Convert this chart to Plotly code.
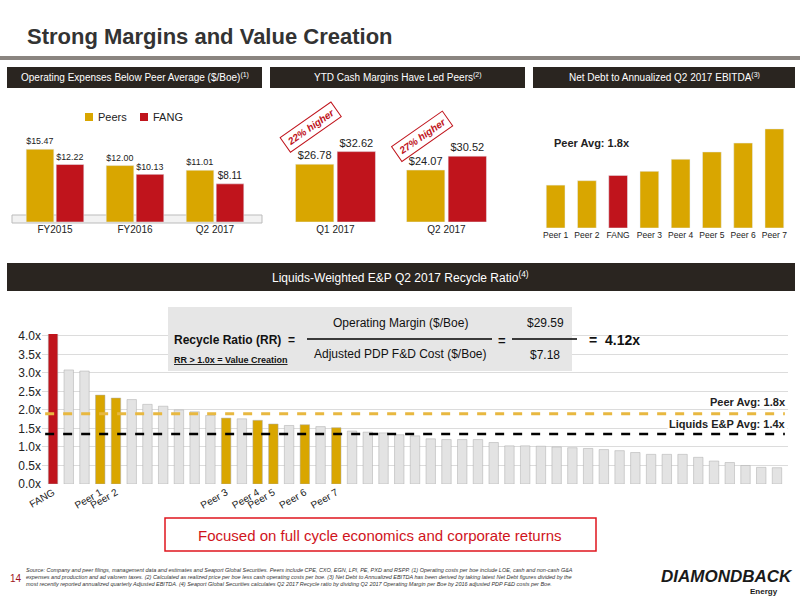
import plotly.graph_objects as go

# Panel 1
opex_cats = ["FY2015", "FY2016", "Q2 2017"]
opex_peers = [15.47, 12.00, 11.01]
opex_fang = [12.22, 10.13, 8.11]
# Panel 2
margin_cats = ["Q1 2017", "Q2 2017"]
margin_peers = [26.78, 24.07]
margin_fang = [32.62, 30.52]
# Panel 3
debt_cats = ["Peer 1", "Peer 2", "FANG", "Peer 3", "Peer 4", "Peer 5", "Peer 6", "Peer 7"]
debt_vals = [1.06, 1.17, 1.30, 1.40, 1.70, 1.88, 2.10, 2.45]
debt_avg = 1.8
# Bottom
rr_vals = [4.12, 3.08, 3.05, 2.40, 2.32, 2.28, 2.15, 2.10, 2.00, 1.95, 1.85,
           1.78, 1.76, 1.72, 1.62, 1.58, 1.60, 1.55, 1.52,
           1.43, 1.40, 1.38, 1.33, 1.30, 1.22, 1.20, 1.20, 1.20, 1.12, 1.03, 1.03,
           1.02, 1.00, 0.98, 0.96, 0.93, 0.90, 0.85, 0.80, 0.80, 0.80, 0.72, 0.62,
           0.58, 0.50, 0.45, 0.44]
rr_labels = {0: "FANG", 3: "Peer 1", 4: "Peer 2", 11: "Peer 3", 13: "Peer 4",
             14: "Peer 5", 16: "Peer 6", 18: "Peer 7"}
rr_peer_avg = 1.9
rr_liq_avg = 1.35

GOLD = "#d9a600"
RED = "#c0141c"
GREY = "#e3e3e3"
DARK = "#2a2520"
FONT = "Liberation Sans, sans-serif"

def py(p):
    return 1 - p / 600

def px(p):
    return p / 800

fig = go.Figure()

tf = dict(size=10, color="#222")
fig.add_trace(go.Bar(x=opex_cats, y=opex_peers, marker_color=GOLD, showlegend=False,
                     text=[f"${v:.2f}" for v in opex_peers], textposition="outside",
                     xaxis="x", yaxis="y", textfont=tf, cliponaxis=False))
fig.add_trace(go.Bar(x=opex_cats, y=opex_fang, marker_color=RED, showlegend=False,
                     text=[f"${v:.2f}" for v in opex_fang], textposition="outside",
                     xaxis="x", yaxis="y", textfont=tf, cliponaxis=False))
tf2 = dict(size=11, color="#222")
fig.add_trace(go.Bar(x=margin_cats, y=margin_peers, marker_color=GOLD, showlegend=False,
                     text=[f"${v:.2f}" for v in margin_peers], textposition="outside",
                     xaxis="x2", yaxis="y2", textfont=tf2, cliponaxis=False))
fig.add_trace(go.Bar(x=margin_cats, y=margin_fang, marker_color=RED, showlegend=False,
                     text=[f"${v:.2f}" for v in margin_fang], textposition="outside",
                     xaxis="x2", yaxis="y2", textfont=tf2, cliponaxis=False))
fig.add_trace(go.Bar(x=debt_cats, y=debt_vals, showlegend=False,
                     marker_color=[RED if c == "FANG" else GOLD for c in debt_cats],
                     xaxis="x3", yaxis="y3", width=0.6))
fig.add_trace(go.Scatter(x=[-0.5, 7.5], y=[debt_avg, debt_avg], mode="lines", showlegend=False,
                         line=dict(color="#555", dash="dash", width=3), xaxis="x3", yaxis="y3"))
n = len(rr_vals)
colors = [RED if i == 0 else GOLD if i in rr_labels else GREY for i in range(n)]
fig.add_trace(go.Bar(x=list(range(n)), y=rr_vals, marker_color=colors, showlegend=False,
                     marker_line=dict(color="#aaa", width=0.5), width=0.6,
                     xaxis="x4", yaxis="y4"))
fig.add_trace(go.Scatter(x=[-0.5, n - 0.5], y=[rr_peer_avg] * 2, mode="lines", showlegend=False,
                         line=dict(color="#e8b840", dash="dash", width=3), xaxis="x4", yaxis="y4"))
fig.add_trace(go.Scatter(x=[-0.5, n - 0.5], y=[rr_liq_avg] * 2, mode="lines", showlegend=False,
                         line=dict(color="black", dash="dash", width=2.5), xaxis="x4", yaxis="y4"))

ax_common = dict(showgrid=False, zeroline=False, showline=False, fixedrange=True, automargin=False)
fig.update_layout(
    width=800, height=600, margin=dict(l=0, r=0, t=0, b=0, autoexpand=False),
    paper_bgcolor="white", plot_bgcolor="rgba(0,0,0,0)",
    font=dict(family=FONT, color="#222"),
    barmode="group", bargap=0.25, bargroupgap=0.08, showlegend=False,
    xaxis=dict(domain=[px(15), px(255)], anchor="y", tickfont=dict(size=10), ticks="", **ax_common),
    yaxis=dict(domain=[py(222), py(135)], anchor="x", range=[0, 18.5], showticklabels=False, **ax_common),
    xaxis2=dict(domain=[px(280), px(502)], anchor="y2", tickfont=dict(size=10), **ax_common),
    yaxis2=dict(domain=[py(222), py(140)], anchor="x2", range=[0, 38], showticklabels=False, **ax_common),
    xaxis3=dict(domain=[px(540), px(790)], anchor="y3", tickangle=0,
                tickfont=dict(size=8.5, color="#222"), range=[-0.5, 7.5], **ax_common),
    yaxis3=dict(domain=[py(228), py(120)], anchor="x3", range=[0, 2.67], showticklabels=False, **ax_common),
    xaxis4=dict(domain=[px(42), px(788)], anchor="y4", range=[-0.7, n - 0.3],
                tickvals=list(rr_labels.keys()), ticktext=list(rr_labels.values()),
                tickangle=-30, tickfont=dict(size=10), **ax_common),
    yaxis4=dict(domain=[py(484), py(334)], anchor="x4", range=[0, 4.05],
                tickvals=[0, 0.5, 1, 1.5, 2, 2.5, 3, 3.5, 4],
                ticktext=["0.0x", "0.5x", "1.0x", "1.5x", "2.0x", "2.5x", "3.0x", "3.5x", "4.0x"],
                showgrid=True, gridcolor="#dcdcdc", zeroline=False, fixedrange=True, automargin=False,
                tickfont=dict(size=12)),
)

shapes = []
ann = []

def text(x, y, t, size, color="#222", xa="center", **kw):
    ann.append(dict(x=px(x), y=py(y), xref="paper", yref="paper", text=t, showarrow=False,
                    xanchor=xa, yanchor="middle", font=dict(size=size, color=color), **kw))

def rect(x0, x1, y0, y1, fill, line=None, **kw):
    shapes.append(dict(type="rect", xref="paper", yref="paper", x0=px(x0), x1=px(x1), y0=py(y1), y1=py(y0),
                       fillcolor=fill, line=line or dict(width=0), **kw))

text(25, 37, "<b>Strong Margins and Value Creation</b>", 22, "#333", "left")
rect(0, 800, 56, 60, "#8a8580")
headers = [(7, 262, "Operating Expenses Below Peer Average ($/Boe)<sup>(1)</sup>"),
           (270, 525, "YTD Cash Margins Have Led Peers<sup>(2)</sup>"),
           (533, 795, "Net Debt to Annualized Q2 2017 EBITDA<sup>(3)</sup>")]
for x0, x1, t in headers:
    rect(x0, x1, 67, 88, DARK)
    text((x0 + x1) / 2, 77.5, t, 10, "white")
rect(7, 795, 263, 291, DARK)
text(400, 277, "Liquids-Weighted E&P Q2 2017 Recycle Ratio<sup>(4)</sup>", 12, "white")
rect(85, 93, 113, 121, GOLD)
rect(140, 148, 113, 121, RED)
text(96, 117, "Peers", 11, xa="left")
text(151, 117, "FANG", 11, xa="left")
rect(12, 262, 215, 223, "#f2f2f2", dict(color="#bbb", width=1), layer="below")
for x, y, t in [(310, 127, "22% higher"), (422, 137, "27% higher")]:
    text(x, y, f"<b><i>{t}</i></b>", 10, RED, textangle=-35, bordercolor=RED, borderwidth=1, borderpad=3,
         bgcolor="white")
text(552, 143, "<b>Peer Avg: 1.8x</b>", 11, xa="left")
rect(168, 572, 307, 371, "#e6e6e6")
shapes.append(dict(type="line", xref="paper", yref="paper", x0=px(307), x1=px(492), y0=py(339), y1=py(339),
                   line=dict(color="black", width=1.5)))
shapes.append(dict(type="line", xref="paper", yref="paper", x0=px(512), x1=px(577), y0=py(339), y1=py(339),
                   line=dict(color="black", width=1.5)))
text(172, 340, "<b>Recycle Ratio (RR)  =</b>", 12, "#111", "left")
text(400, 323, "Operating Margin ($/Boe)", 12, "#111")
text(400, 354, "Adjusted PDP F&D Cost ($/Boe)", 12, "#111")
text(502, 340, "<b>=</b>", 13, "#111")
text(545, 323, "$29.59", 12, "#111")
text(545, 355, "$7.18", 12, "#111")
text(587, 340, "<b>=  4.12x</b>", 14, "#111", "left")
text(172, 360, "<b><u>RR > 1.0x = Value Creation</u></b>", 9, "#111", "left")
text(788, 402, "<b>Peer Avg: 1.8x</b>", 11, xa="right")
text(788, 424, "<b>Liquids E&P Avg: 1.4x</b>", 11, xa="right", bgcolor="white")
rect(165, 596, 518, 551, "white", dict(color="#e0161e", width=1.5))
text(380, 535, "Focused on full cycle economics and corporate returns", 15, "#d0141c")
foot = ("<i>Source: Company and peer filings, management data and estimates and Seaport Global Securities. Peers include CPE, CXO, EGN, LPI, PE, PXD and RSPP. (1) Operating costs per boe include LOE, cash and non-cash G&A<br>"
        "expenses and production and ad valorem taxes. (2) Calculated as realized price per boe less cash operating costs per boe. (3) Net Debt to Annualized EBITDA has been derived by taking latest Net Debt figures divided by the<br>"
        "most recently reported annualized quarterly Adjusted EBITDA. (4) Seaport Global Securities calculates Q2 2017 Recycle ratio by dividing Q2 2017 Operating Margin per Boe by 2016 adjusted PDP F&D costs per Boe.</i>")
text(24, 577, foot, 5.5, "#333", "left", align="left")
text(8, 578, "14", 10, "#a0141c", "left")
text(795, 576, "<b><i>DIAMONDBACK</i></b>", 17, "#1a1a1a", "right")
text(780, 591, "<b>Energy</b>", 8, "#1a1a1a", "right")
fig.update_layout(shapes=shapes, annotations=ann)
fig.write_html("out.html", config={"displayModeBar": False},
               post_script="document.body.style.margin='0';")
